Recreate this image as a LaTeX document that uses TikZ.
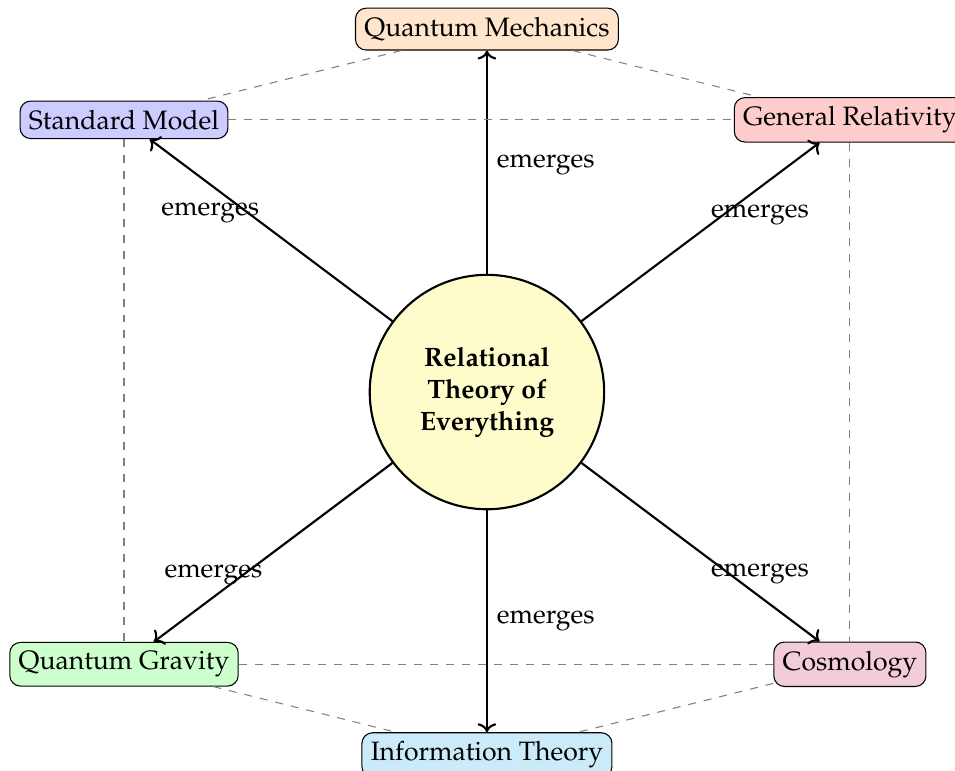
\documentclass[tikz,border=0pt]{standalone}
\usepackage[T1]{fontenc}
\usepackage{mathpazo}
\usetikzlibrary{arrows.meta, positioning}
\definecolor{infoblue}{RGB}{204,235,250}

\begin{document}
\begin{tikzpicture}[
    x=1.2cm, y=1.2cm,
    topic/.style={rectangle, draw, rounded corners, align=center},
    core/.style={circle, draw, thick, fill=yellow!20, minimum size=3.1cm, align=center, font=\bfseries},
    arrow/.style={->, thick},
    link/.style={dashed, gray}
]
    \useasboundingbox (-6.44cm,-5.01cm) rectangle (6.19cm,5.185cm);

    % Central theory
    \node[core] (rtoe) at (0,0) {Relational\\Theory of\\Everything};

    % Emergent theories
    \node[topic, fill=orange!20] (qm) at (0,4) {Quantum Mechanics};
    \node[topic, fill=blue!20] (sm) at (-4,3) {Standard Model};
    \node[topic, fill=red!20] (gr) at (4,3) {General Relativity};
    \node[topic, fill=green!20] (qg) at (-4,-3) {Quantum Gravity};
    \node[topic, fill=purple!20] (cosmo) at (4,-3) {Cosmology};
    \node[topic, fill=infoblue] (info) at (0,-4) {Information Theory};

    % Emergence arrows
    \draw[arrow] (rtoe) -- node[midway, right, yshift=-1pt] {emerges} (qm);
    \draw[arrow] (rtoe) -- node[pos=0.75, below=3pt] {emerges} (sm);
    \draw[arrow] (rtoe) -- node[pos=0.75, below=3pt] {emerges} (gr);
    \draw[arrow] (rtoe) -- node[pos=0.75, above=1pt] {emerges} (qg);
    \draw[arrow] (rtoe) -- node[pos=0.75, above=1pt] {emerges} (cosmo);
    \draw[arrow] (rtoe) -- node[midway, right] {emerges} (info);

    % Links between neighbours
    \draw[link] (qm) -- (sm);
    \draw[link] (qm) -- (gr);
    \draw[link] (sm) -- (gr);
    \draw[link] (sm) -- (qg);
    \draw[link] (gr) -- (cosmo);
    \draw[link] (qg) -- (cosmo);
    \draw[link] (qg) -- (info);
    \draw[link] (cosmo) -- (info);
\end{tikzpicture}
\end{document}
